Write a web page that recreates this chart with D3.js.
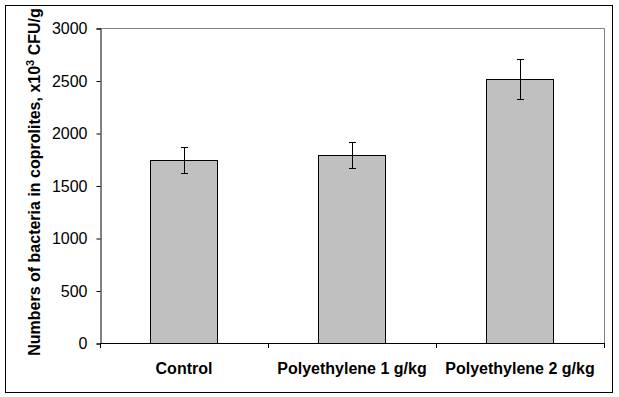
<!DOCTYPE html>
<html>
<head>
<meta charset="utf-8">
<script src="https://cdn.jsdelivr.net/npm/d3@7"></script>
<style>
  body { margin: 0; background: #fff; }
  svg { display: block; }
  text { font-family: "Liberation Sans", Arial, sans-serif; }
</style>
</head>
<body>
<div id="chart"></div>
<script>
'use strict';

var categories = ["Control", "Polyethylene 1 g/kg", "Polyethylene 2 g/kg"];
var values = [1740, 1790, 2515];
var errors = [125, 128, 190];
var yTicks = [0, 500, 1000, 1500, 2000, 2500, 3000];

var W = 619, H = 397;
var m = {left: 100, right: 15, top: 28, bottom: 54};

var svg = d3.select("#chart").append("svg")
  .attr("width", W)
  .attr("height", H);

svg.append("rect")
  .attr("width", W).attr("height", H)
  .attr("fill", "#fff");

// outer frame
svg.append("rect")
  .attr("x", 5.5).attr("y", 5.5)
  .attr("width", 607).attr("height", 387)
  .attr("fill", "none")
  .attr("stroke", "#000")
  .attr("stroke-width", 1);

var x = d3.scaleBand()
  .domain(categories)
  .range([m.left, W - m.right])
  .paddingInner(0.6)
  .paddingOuter(0.3);

var y = d3.scaleLinear()
  .domain([0, 3000])
  .range([H - m.bottom, m.top]);

var x0 = m.left, x1 = W - m.right;
var yb = y(0), yt = y(3000);

// plot area top/right edges (gray)
svg.append("path")
  .attr("d", "M" + x0 + "," + (yt + 0.5) + "H" + (x1 + 0.5) + "V" + yb)
  .attr("fill", "none")
  .attr("stroke", "#808080");

// y axis
var yAxis = svg.append("g")
  .attr("transform", "translate(" + (x0 + 0.5) + ",0.5)")
  .call(d3.axisLeft(y).tickValues(yTicks).tickSize(4).tickPadding(9).tickFormat(d3.format("d")));
yAxis.select(".domain").attr("stroke", "#000");
yAxis.selectAll(".tick line").attr("stroke", "#000");
yAxis.selectAll(".tick text")
  .attr("font-size", 16)
  .attr("font-family", "Liberation Sans, Arial, sans-serif")
  .attr("fill", "#000");

// bars
svg.selectAll(".bar")
  .data(values)
  .enter().append("rect")
  .attr("class", "bar")
  .attr("x", function(d, i) { return Math.round(x(categories[i])) + 0.5; })
  .attr("y", function(d) { return Math.round(y(d)) + 0.5; })
  .attr("width", Math.round(x.bandwidth()))
  .attr("height", function(d) { return Math.round(yb) - Math.round(y(d)); })
  .attr("fill", "#c0c0c0")
  .attr("stroke", "#000")
  .attr("stroke-width", 1);

// error bars
var eb = svg.selectAll(".err")
  .data(values)
  .enter().append("g")
  .attr("class", "err")
  .attr("transform", function(d, i) {
    return "translate(" + (Math.round(x(categories[i]) + x.bandwidth() / 2) + 0.5) + ",0.5)";
  });
eb.append("line")
  .attr("y1", function(d, i) { return Math.round(y(d + errors[i])); })
  .attr("y2", function(d, i) { return Math.round(y(d - errors[i])); })
  .attr("stroke", "#000");
eb.append("line")
  .attr("x1", -3.5).attr("x2", 3.5)
  .attr("y1", function(d, i) { return Math.round(y(d + errors[i])); })
  .attr("y2", function(d, i) { return Math.round(y(d + errors[i])); })
  .attr("stroke", "#000");
eb.append("line")
  .attr("x1", -3.5).attr("x2", 3.5)
  .attr("y1", function(d, i) { return Math.round(y(d - errors[i])); })
  .attr("y2", function(d, i) { return Math.round(y(d - errors[i])); })
  .attr("stroke", "#000");

// x axis
svg.append("line")
  .attr("x1", x0).attr("x2", x1 + 1)
  .attr("y1", yb + 0.5).attr("y2", yb + 0.5)
  .attr("stroke", "#000");

var step = x.step();
var bounds = [0, 1, 2, 3].map(function(i) { return x0 + i * step; });
svg.selectAll(".xtick")
  .data(bounds)
  .enter().append("line")
  .attr("class", "xtick")
  .attr("x1", function(d) { return Math.round(d) + 0.5; })
  .attr("x2", function(d) { return Math.round(d) + 0.5; })
  .attr("y1", yb)
  .attr("y2", yb + 5)
  .attr("stroke", "#000");

svg.selectAll(".xlab")
  .data(categories)
  .enter().append("text")
  .attr("class", "xlab")
  .attr("x", function(d) { return x(d) + x.bandwidth() / 2; })
  .attr("y", yb + 31)
  .attr("text-anchor", "middle")
  .attr("font-size", 16)
  .attr("font-weight", "bold")
  .text(function(d) { return d; });

// y label
var yl = svg.append("text")
  .attr("transform", "translate(40,182) rotate(-90)")
  .attr("text-anchor", "middle")
  .attr("font-size", 16)
  .attr("font-weight", "bold");
yl.append("tspan").text("Numbers of bacteria in coprolites, x10");
yl.append("tspan").attr("dy", -6).attr("font-size", 11).text("3");
yl.append("tspan").attr("dy", 6).text(" CFU/g");
</script>
</body>
</html>
